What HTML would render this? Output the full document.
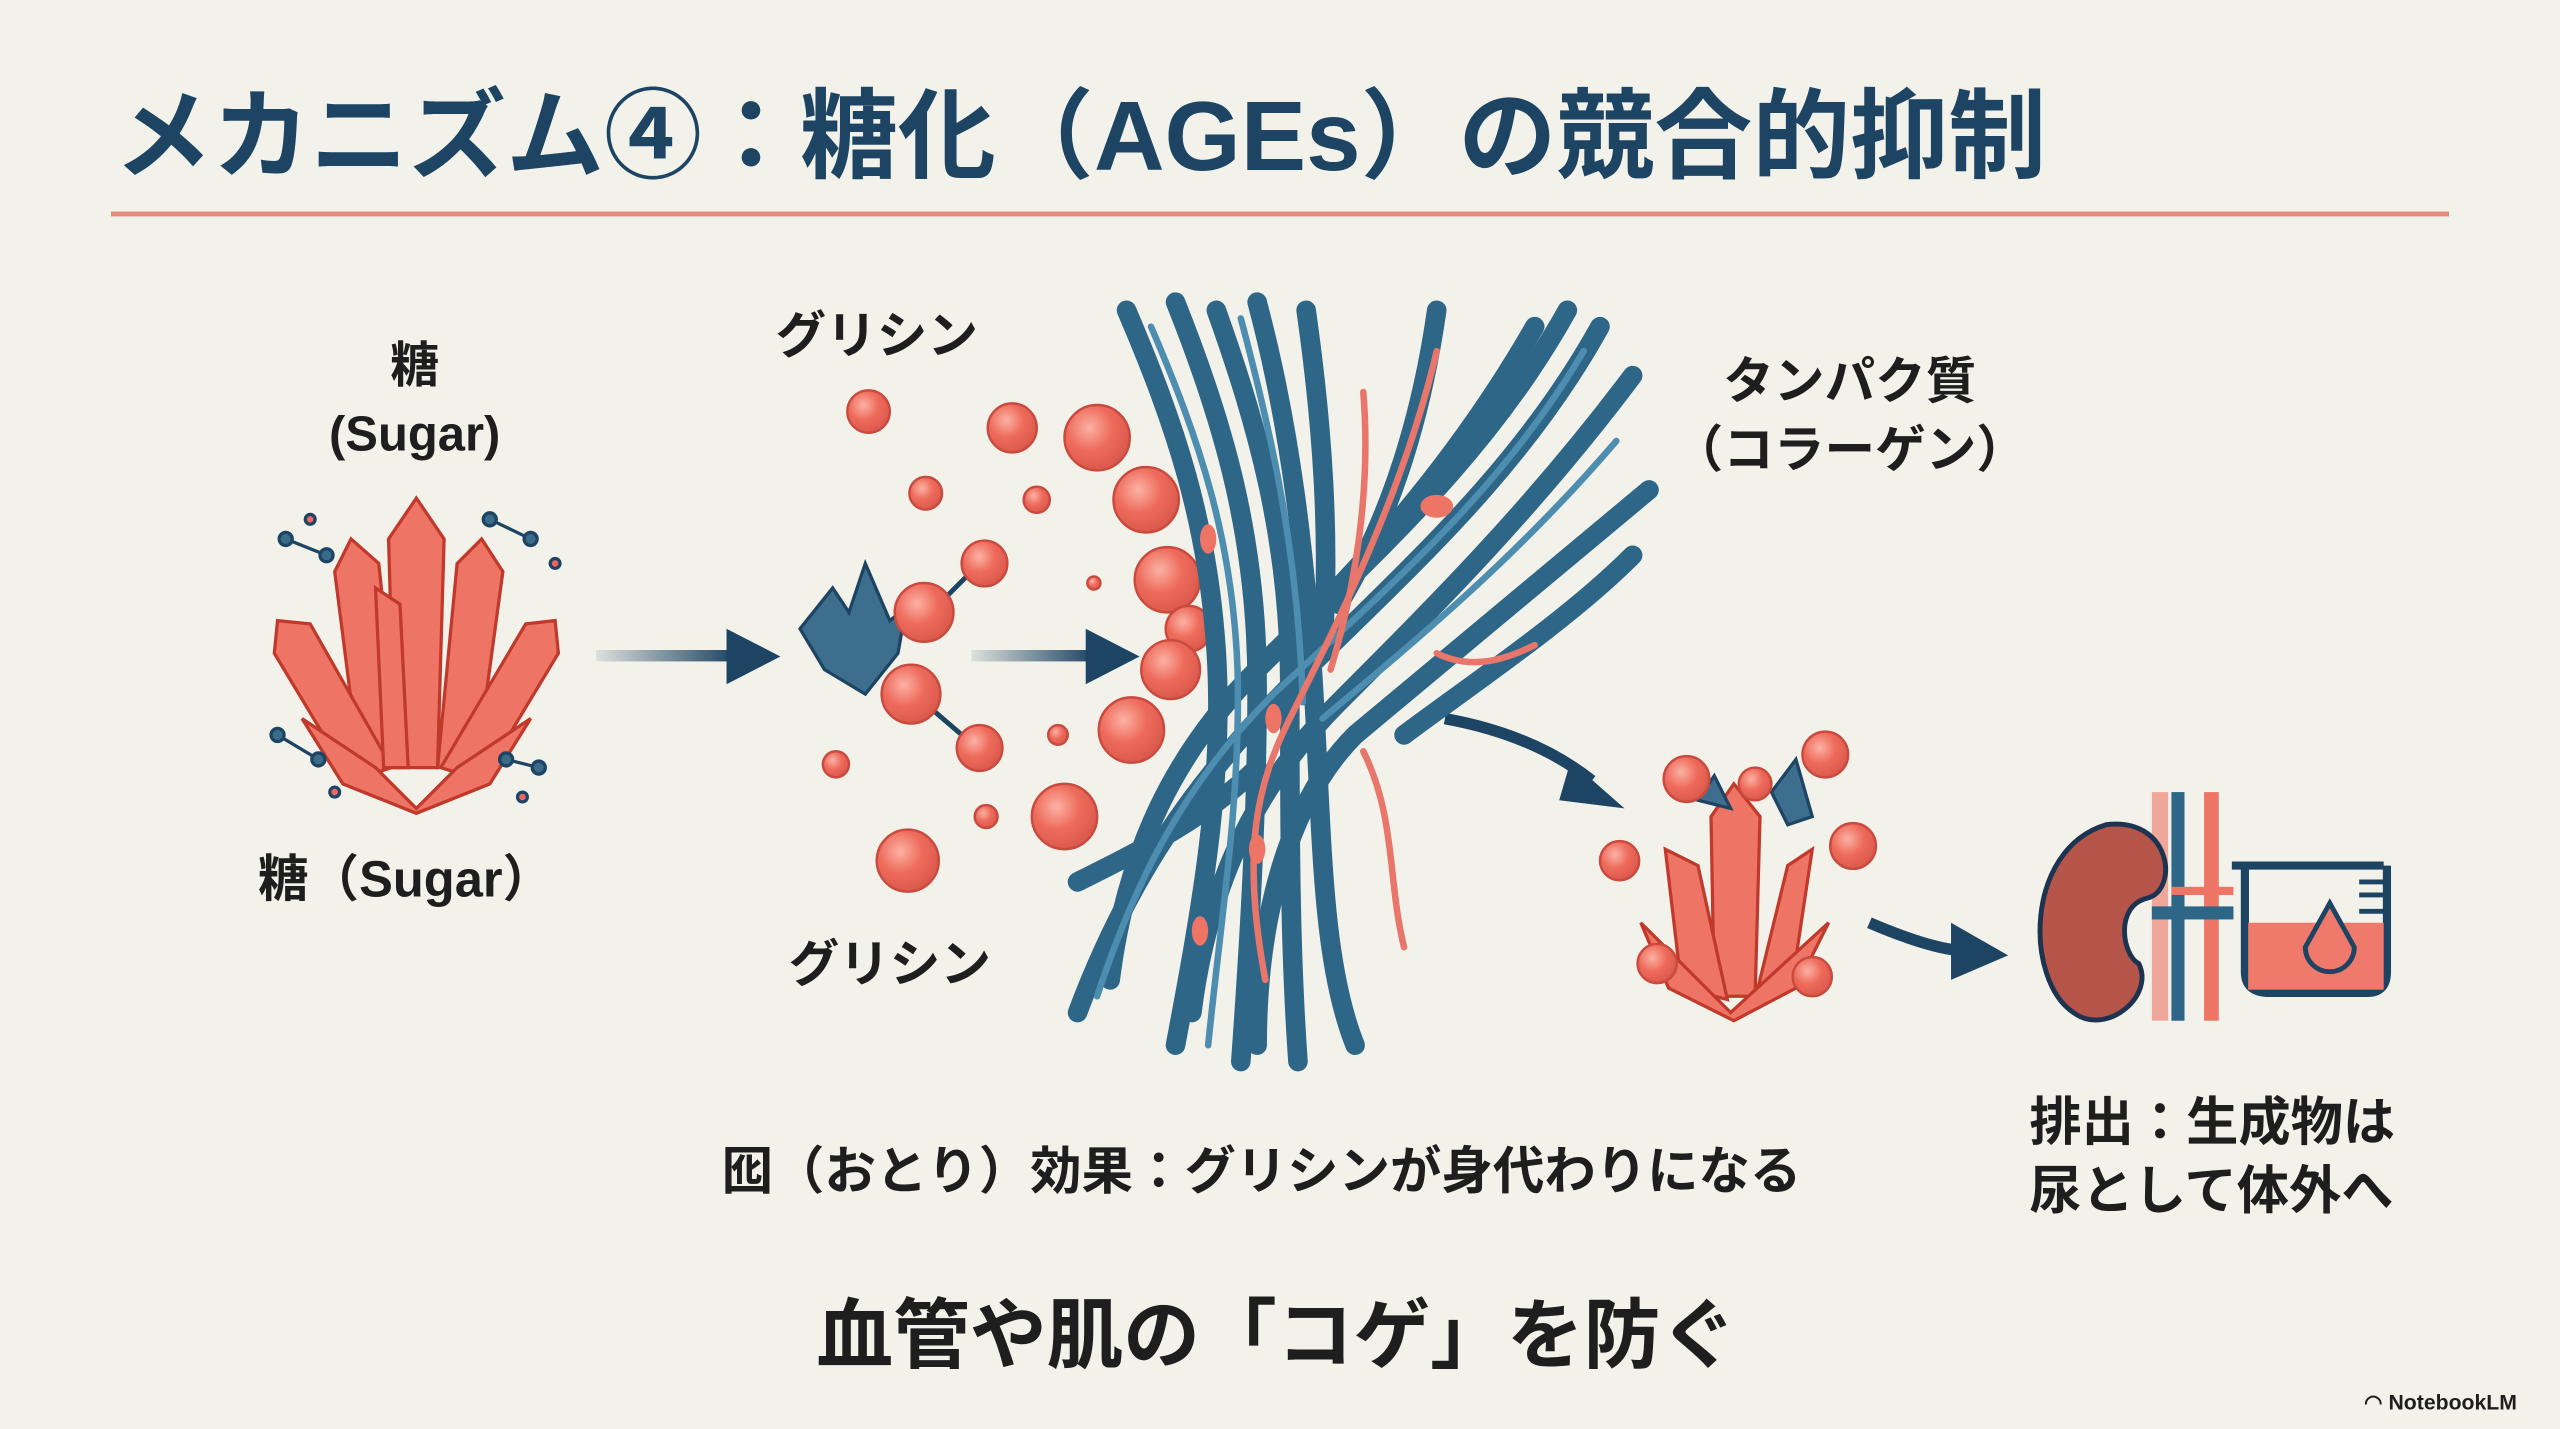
<!DOCTYPE html>
<html><head><meta charset="utf-8"><style>
html,body{margin:0;padding:0;background:#f3f2ea;}
svg{display:block;}
text{font-family:"Liberation Sans","Noto Sans CJK JP",sans-serif;font-weight:bold;}
</style></head><body>
<svg width="2560" height="1429" viewBox="0 0 1568 875" preserveAspectRatio="none" xmlns="http://www.w3.org/2000/svg">
<defs>
<radialGradient id="bub" cx="0.38" cy="0.35" r="0.7"><stop offset="0" stop-color="#fbb2a4"/><stop offset="0.5" stop-color="#ee6b5c"/><stop offset="1" stop-color="#d9574a"/></radialGradient>
<linearGradient id="arr" x1="0" x2="1"><stop offset="0" stop-color="#1d4563" stop-opacity="0.1"/><stop offset="1" stop-color="#1d4563"/></linearGradient>
</defs>
<rect width="1568" height="875" fill="#f3f2ea"/>
<text x="70" y="104" font-size="60" fill="#1d4563">メカニズム④：糖化（AGEs）の競合的抑制</text>
<rect x="68" y="129.5" width="1432" height="3" fill="#e58a7d"/>

<g fill="#1e1e1e">
<text x="254" y="234" font-size="30" text-anchor="middle">糖</text>
<text x="254" y="276" font-size="30" text-anchor="middle">(Sugar)</text>
<text x="158" y="549" font-size="31">糖（Sugar）</text>
<text x="475" y="216" font-size="31">グリシン</text>
<text x="483" y="601" font-size="31">グリシン</text>
<text x="1133" y="244" font-size="31" text-anchor="middle">タンパク質</text>
<text x="1133" y="286" font-size="31" text-anchor="middle">（コラーゲン）</text>
<text x="442" y="728" font-size="31.5">囮（おとり）効果：グリシンが身代わりになる</text>
<text x="1243" y="698" font-size="32">排出：生成物は</text>
<text x="1243" y="740" font-size="32">尿として体外へ</text>
<text x="782" y="834" font-size="47" text-anchor="middle">血管や肌の「コゲ」を防ぐ</text>
<text x="1448" y="863" font-size="13">◠ NotebookLM</text>
</g>

<g stroke="#c0392b" stroke-width="2" fill="#ee7566">
<polygon points="255,305 272,330 268,470 242,470 238,330"/>
<polygon points="215,330 232,345 245,470 220,468 205,350"/>
<polygon points="295,330 308,350 292,468 268,470 280,345"/>
<polygon points="170,380 190,382 240,470 215,478 168,400"/>
<polygon points="340,380 342,400 295,478 270,470 322,382"/>
<polygon points="185,440 230,470 255,495 280,470 325,440 300,480 255,498 210,480"/>
<polygon points="230,360 245,370 250,470 235,470"/>
</g>
<g stroke="#1d4563" stroke-width="2" fill="#3a6c8a">
<line x1="175" y1="330" x2="200" y2="340"/><circle cx="175" cy="330" r="4"/><circle cx="200" cy="340" r="4"/><circle cx="190" cy="318" r="3" fill="#e66"/>
<line x1="300" y1="318" x2="325" y2="330"/><circle cx="300" cy="318" r="4"/><circle cx="325" cy="330" r="4"/><circle cx="340" cy="345" r="3" fill="#e66"/>
<line x1="170" y1="450" x2="195" y2="465"/><circle cx="170" cy="450" r="4"/><circle cx="195" cy="465" r="4"/><circle cx="205" cy="485" r="3" fill="#e66"/>
<line x1="310" y1="465" x2="330" y2="470"/><circle cx="310" cy="465" r="4"/><circle cx="330" cy="470" r="4"/><circle cx="320" cy="488" r="3" fill="#e66"/>
</g>

<g fill="#1d4563">
<rect x="365" y="398" width="85" height="7" fill="url(#arr)"/><polygon points="445,385 478,402 445,419"/>
<rect x="595" y="398" width="75" height="7" fill="url(#arr)"/><polygon points="665,385 698,402 665,419"/>
<path d="M885,440 Q940,450 975,478" stroke="#1d4563" stroke-width="7" fill="none"/><polygon points="962,466 995,495 955,490"/>
<path d="M1145,565 Q1180,580 1200,582" stroke="#1d4563" stroke-width="7" fill="none"/><polygon points="1195,565 1230,585 1195,600"/>
</g>

<g fill="#3d6e8e" stroke="#1d4563" stroke-width="2">
<polygon points="490,385 510,360 520,375 530,345 545,380 555,372 550,400 530,425 505,410"/>
</g>
<g stroke="#1d4563" stroke-width="3"><line x1="565" y1="380" x2="600" y2="345"/><line x1="560" y1="425" x2="595" y2="455"/></g>

<g fill="url(#bub)" stroke="#c94a3e" stroke-width="1.5">
<circle cx="532" cy="252" r="13"/><circle cx="620" cy="262" r="15"/><circle cx="672" cy="268" r="20"/>
<circle cx="567" cy="302" r="10"/><circle cx="635" cy="306" r="8"/><circle cx="702" cy="306" r="20"/>
<circle cx="603" cy="345" r="14"/><circle cx="566" cy="375" r="18"/><circle cx="715" cy="355" r="20"/>
<circle cx="728" cy="385" r="14"/><circle cx="717" cy="410" r="18"/><circle cx="558" cy="425" r="18"/>
<circle cx="693" cy="447" r="20"/><circle cx="600" cy="458" r="14"/><circle cx="512" cy="468" r="8"/>
<circle cx="648" cy="450" r="6"/><circle cx="604" cy="500" r="7"/><circle cx="652" cy="500" r="20"/>
<circle cx="556" cy="527" r="19"/><circle cx="670" cy="357" r="4"/>
</g>

<g fill="none" stroke-linecap="round">
<g stroke="#2e6687" stroke-width="12">
<path d="M690,190 C720,260 740,320 745,400 C750,480 735,560 720,640"/>
<path d="M720,185 C750,260 770,330 770,420 C770,500 765,580 760,650"/>
<path d="M745,190 C770,260 790,330 790,420 C790,510 790,580 795,650"/>
<path d="M770,185 C790,260 800,340 805,430 C810,520 810,590 830,640"/>
<path d="M800,190 C810,260 815,330 810,400"/>
<path d="M980,200 C930,290 860,350 790,420 C730,480 690,540 660,620"/>
<path d="M960,190 C910,280 840,340 770,410 C720,460 690,520 680,600"/>
<path d="M1000,230 C940,310 880,370 820,430 C770,480 740,540 730,620"/>
<path d="M1010,300 C950,350 890,400 830,450 C790,490 770,560 770,640"/>
<path d="M940,200 C900,270 850,330 800,380"/>
<path d="M1000,340 C960,380 900,420 860,450"/>
<path d="M880,190 C870,260 850,320 820,370"/>
<path d="M660,540 C700,520 740,500 770,470"/>
</g>
<g stroke="#4d8db0" stroke-width="4">
<path d="M705,200 C735,270 755,330 758,410 C760,490 748,560 740,640"/>
<path d="M970,215 C920,300 850,360 780,425 C725,480 695,540 672,610"/>
<path d="M990,270 C930,340 870,390 810,440"/>
<path d="M760,195 C780,270 795,340 798,430"/>
</g>
<g stroke="#e8766a" stroke-width="4">
<path d="M880,215 C860,300 820,380 790,440 C770,480 760,520 775,600"/>
<path d="M835,240 C840,300 830,360 815,410"/>
<path d="M835,460 C855,500 850,540 860,580"/>
<path d="M880,400 C900,410 920,405 940,395"/>
</g>
<g fill="#ee7566" stroke="none">
<ellipse cx="740" cy="330" rx="5" ry="9"/><ellipse cx="780" cy="440" rx="5" ry="9"/><ellipse cx="880" cy="310" rx="10" ry="7"/>
<ellipse cx="735" cy="570" rx="5" ry="9"/><ellipse cx="770" cy="520" rx="5" ry="9"/>
</g>
</g>

<g stroke="#c0392b" stroke-width="2" fill="#ee7566">
<polygon points="1062,480 1078,500 1075,610 1050,610 1048,500"/>
<polygon points="1020,520 1040,530 1058,612 1030,605"/>
<polygon points="1110,520 1098,600 1075,612 1095,530"/>
<polygon points="1005,565 1060,620 1120,565 1100,605 1062,625 1022,605"/>
</g>
<g fill="#3d6e8e" stroke="#1d4563" stroke-width="2">
<polygon points="1040,490 1050,475 1060,495"/><polygon points="1085,485 1100,465 1110,500 1095,505"/>
</g>
<g fill="url(#bub)" stroke="#c94a3e" stroke-width="1.5">
<circle cx="1033" cy="477" r="14"/><circle cx="1075" cy="480" r="10"/><circle cx="1118" cy="462" r="14"/>
<circle cx="1135" cy="518" r="14"/><circle cx="992" cy="527" r="12"/><circle cx="1015" cy="590" r="12"/>
<circle cx="1110" cy="598" r="12"/>
</g>

<rect x="1318" y="485" width="10" height="140" fill="#ee7566" opacity="0.6"/>
<rect x="1330" y="485" width="8" height="140" fill="#2e6687"/>
<rect x="1350" y="485" width="9" height="140" fill="#ee7566"/>
<rect x="1318" y="555" width="50" height="8" fill="#2e6687"/>
<rect x="1330" y="543" width="38" height="5" fill="#ee7566"/>
<path d="M1290,505 C1330,500 1335,545 1315,550 C1295,555 1300,585 1310,590 C1320,610 1290,635 1270,620 C1240,600 1240,520 1290,505 Z" fill="#b55549" stroke="#1d3450" stroke-width="3"/>
<path d="M1367,530 L1460,530" stroke="#1d4563" stroke-width="5"/>
<path d="M1375,530 L1375,595 Q1375,608 1390,608 L1450,608 Q1462,608 1462,595 L1462,530" fill="none" stroke="#1d4563" stroke-width="5"/>
<rect x="1377" y="565" width="83" height="41" fill="#ef7a6b"/>
<g stroke="#1d4563" stroke-width="3"><line x1="1445" y1="548" x2="1460" y2="548"/><line x1="1445" y1="558" x2="1460" y2="558"/><line x1="1445" y1="540" x2="1460" y2="540"/></g>
<path d="M1427,553 L1412,580 A15,15 0 1,0 1442,580 Z" fill="#ef7a6b" stroke="#1d4563" stroke-width="3"/>
</svg>
</body></html>
